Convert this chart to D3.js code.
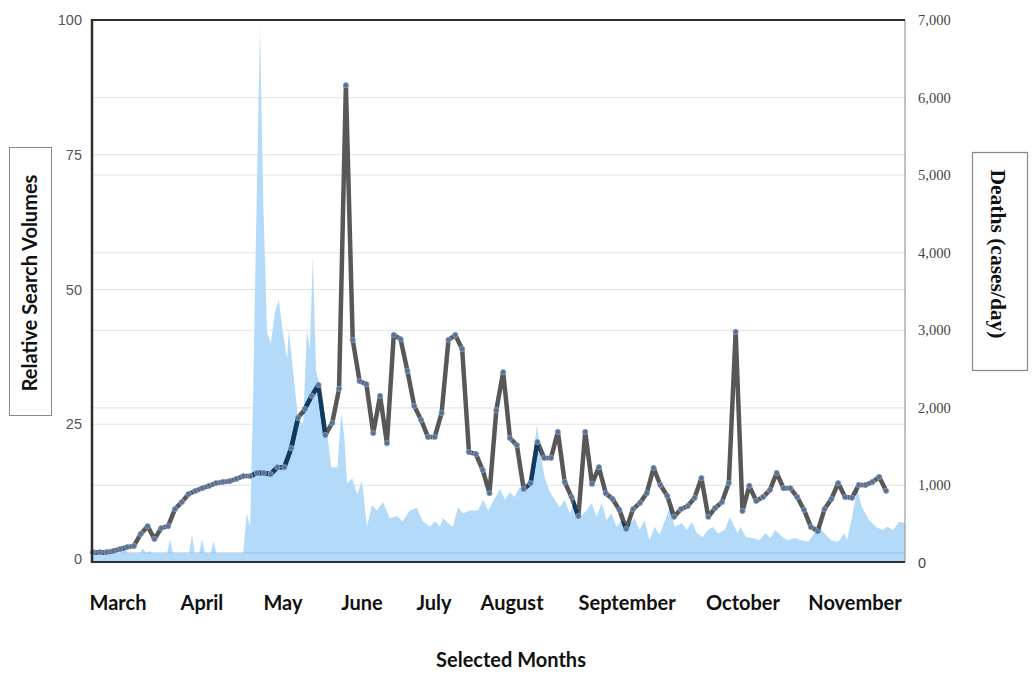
<!DOCTYPE html>
<html>
<head>
<meta charset="utf-8">
<script src="https://cdn.jsdelivr.net/npm/d3@7"></script>
<style>
  body { margin: 0; background: #fff; }
  svg { display: block; }
</style>
</head>
<body>
<div id="chart"></div>
<script>
// ── Data ──
// daily deaths, sampled points along the period (right axis)
const deaths = [
  140, 140, 140, 155, 180, 205, 220, 375, 475, 310,
  450, 475, 695, 785, 890, 930, 965, 995, 1030, 1045,
  1055, 1085, 1120, 1120, 1160, 1160, 1145, 1235, 1235, 1480,
  1870, 1985, 2155, 2295, 1650, 1805, 2245, 6160, 2875, 2345,
  2305, 1675, 2155, 1545, 2940, 2885, 2475, 2025, 1845, 1625,
  1625, 1935, 2875, 2940, 2760, 1430, 1405, 1200, 900, 1970,
  2460, 1610, 1520, 955, 1030, 1560, 1355, 1355, 1690, 1045,
  850, 605, 1690, 1020, 1235, 900, 825, 685, 440, 695,
  775, 900, 1225, 1005, 865, 595, 695, 735, 840, 1095,
  595, 710, 785, 1030, 2980, 670, 995, 800, 850, 940,
  1160, 965, 965, 850, 685, 465, 410, 695, 825, 1030,
  850, 840, 1005, 1005, 1045, 1110, 930
];
const deathsFirstDay = 0.3;
const deathsLastDay = 268.6;

// relative search volume (left axis): day of period, value
const searchDays = [
  0, 9.5, 11.2, 12.2, 16.2, 17.2, 18.3, 19.6, 20.6, 25.4, 26.4, 27.4,
  32.8, 33.8, 34.8, 36.2, 37.2, 38.2, 40.1, 41.1, 42.1, 51.1,
  52.4, 53.5, 54.5, 55.8, 56.8, 57.8, 59.2, 60.5, 61.9, 63.2,
  64.6, 66, 66.6, 68, 69.7, 71.4, 72.7, 73.7, 74.7, 75.8,
  77.5, 79.2, 80.9, 83, 84.3, 85.3, 86.3, 88, 89.7, 91.3,
  93, 94.7, 96.4, 98.4, 100.7, 103.1, 105.1, 107.5, 109.9, 111.9,
  114.3, 116, 117.7, 118.7, 120.4, 122.1, 123.8, 125.5, 127.8, 130.6,
  132.3, 134, 135.6, 138, 139.7, 141.3, 143, 144.7, 146.4, 148.1,
  149.8, 150.5, 151.5, 153.2, 154.9, 156.6, 158.2, 159.9, 161.6, 163.3,
  165, 167.3, 169, 170.7, 172.4, 174.1, 175.7, 177.4, 179.1, 181.2,
  183.5, 185.2, 186.9, 188.6, 190.3, 192, 193.7, 195.4, 197.1, 199.5,
  201.2, 202.9, 204.6, 206.6, 208.3, 210, 211.7, 214, 215.7, 218.4,
  219.4, 221.1, 223.4, 225.8, 227.8, 229.5, 231.1, 233.5, 235.5, 237.6,
  239.9, 242.3, 244.3, 246, 247.7, 250, 252.4, 254.4, 255.4, 257.1,
  258.8, 260.5, 262.9, 265.2, 267.3, 269, 271, 273, 275
];
const searchValues = [
  1, 1, 2, 1, 1, 2, 1, 1.5, 1, 1, 3.7, 1,
  1, 4.5, 1, 1, 3.7, 1, 1, 3.3, 1, 1,
  8.5, 6, 30, 70, 99, 69, 42, 40, 46, 48,
  42, 37, 42.5, 35, 26, 25, 42.5, 39, 56, 35,
  31, 25, 17, 17, 27, 23, 14, 15, 12, 14.5,
  6, 10, 9, 10.6, 7.6, 8, 7, 9, 9.5, 7,
  6, 7, 6, 7.6, 6.7, 6, 9.6, 8.5, 9, 9,
  11, 9, 10.6, 13, 11, 12.4, 11.5, 13.4, 12.5, 15,
  21.5, 25, 20, 15, 12.4, 11, 9.6, 11, 8.5, 11,
  7.8, 9, 10.4, 7.8, 10.4, 7.2, 8.5, 6, 7.2, 6,
  7.6, 5.4, 7.2, 3.5, 6, 4.5, 7, 9.5, 6, 6.7,
  5.4, 6.9, 4.8, 4.1, 5.4, 6, 4.8, 5.4, 7.8, 4.8,
  6, 4.1, 3.9, 3.5, 4.8, 3.9, 5.4, 4.1, 3.5, 3.9,
  3.5, 3.2, 4.8, 6, 4.8, 3.5, 3.2, 4.8, 3.5, 7.8,
  12.8, 9.6, 7.2, 6, 5.4, 6, 5.4, 6.9, 6.7
];

const months = ['March', 'April', 'May', 'June', 'July', 'August', 'September', 'October', 'November'];
const monthDays = [8.8, 37.2, 64.6, 91.3, 115.7, 142.1, 181, 220.2, 258.1];

const leftTicks = [0, 25, 50, 75, 100];
const rightTicks = [0, 1000, 2000, 3000, 4000, 5000, 6000, 7000];

// ── Layout ──
const W = 1034, H = 678;
const plot = { left: 92, right: 905, top: 20, bottom: 562 };

const svg = d3.select('#chart')
  .append('svg')
  .attr('width', W)
  .attr('height', H);

const x = d3.scaleLinear().domain([0, 275]).range([plot.left, plot.right]);
const yL = d3.scaleLinear().domain([0, 100]).range([559, plot.top]);
const yR = d3.scaleLinear().domain([0, 7000]).range([563, plot.top]);

const searchData = searchDays.map((d, i) => ({ day: d, value: searchValues[i] }));
const dayStep = (deathsLastDay - deathsFirstDay) / (deaths.length - 1);
const deathData = deaths.map((v, i) => ({ day: deathsFirstDay + i * dayStep, value: v }));

// Grid
svg.append('g')
  .selectAll('line')
  .data(leftTicks.slice(1, -1))
  .enter().append('line')
  .attr('x1', plot.left).attr('x2', plot.right)
  .attr('y1', d => yL(d)).attr('y2', d => yL(d))
  .attr('stroke', '#e3e3e3').attr('stroke-width', 1.2);

svg.append('g')
  .selectAll('line')
  .data(rightTicks.slice(1, -1))
  .enter().append('line')
  .attr('x1', plot.left).attr('x2', plot.right)
  .attr('y1', d => yR(d)).attr('y2', d => yR(d))
  .attr('stroke', '#e8e8e8').attr('stroke-width', 1.2);

// Area (search volume)
const area = d3.area()
  .x(d => x(d.day))
  .y0(plot.bottom)
  .y1(d => yL(d.value));

svg.append('clipPath')
  .attr('id', 'area-clip')
  .append('path')
  .datum(searchData)
  .attr('d', area);

svg.append('path')
  .datum(searchData)
  .attr('fill', '#b3dbf9')
  .attr('d', area);

svg.append('line')
  .attr('x1', plot.left).attr('x2', plot.right)
  .attr('y1', 553).attr('y2', 553)
  .attr('stroke', '#9fc3df').attr('stroke-width', 1);

// Deaths line
const line = d3.line()
  .x(d => x(d.day))
  .y(d => yR(d.value));

svg.append('path')
  .datum(deathData)
  .attr('fill', 'none')
  .attr('stroke', '#585858')
  .attr('stroke-width', 4.5)
  .attr('stroke-linejoin', 'round')
  .attr('d', line);

// darker where the line runs over the blue area
svg.append('path')
  .datum(deathData)
  .attr('fill', 'none')
  .attr('stroke', '#0e3a63')
  .attr('stroke-width', 4.5)
  .attr('stroke-linejoin', 'round')
  .attr('clip-path', 'url(#area-clip)')
  .attr('d', line);

svg.append('g')
  .selectAll('circle')
  .data(deathData)
  .enter().append('circle')
  .attr('cx', d => x(d.day))
  .attr('cy', d => yR(d.value))
  .attr('r', 2.7)
  .attr('fill', '#56719a')
  .attr('stroke', '#9aaac2')
  .attr('stroke-width', 0.7);

// Frame
svg.append('line')
  .attr('x1', plot.right).attr('x2', plot.right)
  .attr('y1', plot.top).attr('y2', plot.bottom)
  .attr('stroke', '#9a9a9a').attr('stroke-width', 1.2);
svg.append('line')
  .attr('x1', plot.left).attr('x2', plot.right)
  .attr('y1', plot.top).attr('y2', plot.top)
  .attr('stroke', '#2e2e2e').attr('stroke-width', 2.2);
svg.append('line')
  .attr('x1', plot.left).attr('x2', plot.right)
  .attr('y1', plot.bottom).attr('y2', plot.bottom)
  .attr('stroke', '#2e2e2e').attr('stroke-width', 2.2);
svg.append('line')
  .attr('x1', plot.left).attr('x2', plot.left)
  .attr('y1', plot.top - 1).attr('y2', plot.bottom + 1)
  .attr('stroke', '#2e2e2e').attr('stroke-width', 2.5);

// Left tick labels
svg.append('g')
  .selectAll('text')
  .data(leftTicks)
  .enter().append('text')
  .attr('x', 82)
  .attr('y', d => yL(d) + 5)
  .attr('text-anchor', 'end')
  .attr('fill', '#555')
  .style('font-family', '"Liberation Sans", Arial, sans-serif')
  .style('font-size', '14.5px')
  .text(d => d);

// Right tick labels
svg.append('g')
  .selectAll('text')
  .data(rightTicks)
  .enter().append('text')
  .attr('x', 918)
  .attr('y', d => yR(d) + 5)
  .attr('fill', '#444')
  .style('font-family', d => d === 0 ? '"Liberation Sans", Arial, sans-serif' : '"Liberation Serif", "Times New Roman", serif')
  .style('font-size', '14.5px')
  .text(d => d3.format(',')(d));

// Month labels
svg.append('g')
  .selectAll('text')
  .data(months)
  .enter().append('text')
  .attr('x', (d, i) => x(monthDays[i]))
  .attr('y', 610)
  .attr('text-anchor', 'middle')
  .attr('fill', '#111')
  .style('font-family', 'Lato, "Open Sans", sans-serif')
  .style('font-weight', '700')
  .style('font-size', '20px')
  .text(d => d);

// X title
svg.append('text')
  .attr('x', 511)
  .attr('y', 667)
  .attr('text-anchor', 'middle')
  .attr('fill', '#111')
  .style('font-family', 'Lato, "Open Sans", sans-serif')
  .style('font-weight', '700')
  .style('font-size', '20px')
  .text('Selected Months');

// Left title in box
svg.append('rect')
  .attr('x', 9.5).attr('y', 147.5)
  .attr('width', 42).attr('height', 268)
  .attr('fill', 'none')
  .attr('stroke', '#888').attr('stroke-width', 1);
svg.append('text')
  .attr('transform', 'translate(37,283) rotate(-90)')
  .attr('text-anchor', 'middle')
  .attr('fill', '#111')
  .style('font-family', 'Lato, "Open Sans", sans-serif')
  .style('font-weight', '700')
  .style('font-size', '20px')
  .text('Relative Search Volumes');

// Right title in box
svg.append('rect')
  .attr('x', 972.5).attr('y', 152.5)
  .attr('width', 55).attr('height', 218)
  .attr('fill', 'none')
  .attr('stroke', '#888').attr('stroke-width', 1.2);
svg.append('text')
  .attr('transform', 'translate(991,254) rotate(90)')
  .attr('text-anchor', 'middle')
  .attr('fill', '#111')
  .style('font-family', '"Liberation Serif", "Times New Roman", serif')
  .style('font-weight', '700')
  .style('font-size', '21.5px')
  .text('Deaths (cases/day)');
</script>
</body>
</html>
